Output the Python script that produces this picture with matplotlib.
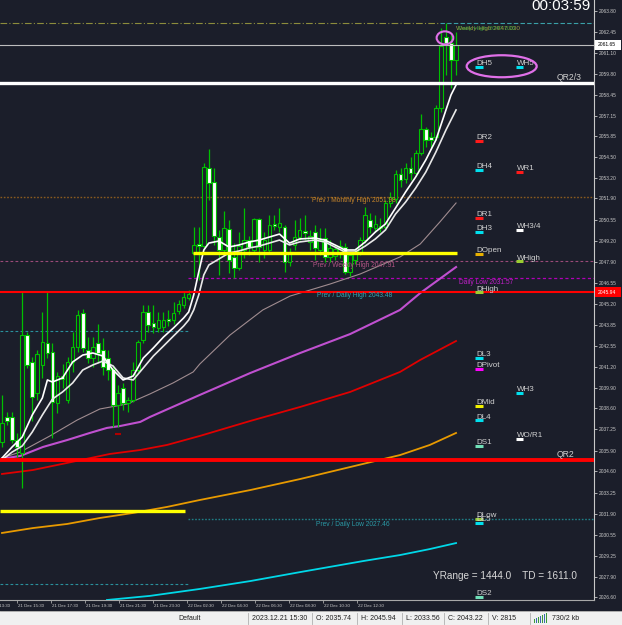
import matplotlib
matplotlib.use("Agg")
import matplotlib.pyplot as plt
import matplotlib.transforms as mtrans
from matplotlib.patches import Ellipse, Rectangle
import numpy as np

# ---------------- data ----------------
opens = [2036.48, 2038.04, 2038.04, 2036.58, 2035.74, 2043.24, 2041.53, 2039.56, 2041.34, 2042.73,
         2042.16, 2038.93, 2040.64, 2039.12, 2041.53, 2042.48, 2044.64, 2042.29, 2041.78, 2042.73,
         2042.29, 2041.78, 2041.09, 2038.80, 2039.88, 2038.93, 2039.12, 2041.02, 2042.92, 2044.70,
         2044.00, 2043.69, 2043.75, 2044.26, 2044.19, 2044.76, 2045.14, 2045.59, 2048.44, 2049.01,
         2048.88, 2053.83, 2052.94, 2049.45, 2048.63, 2049.96, 2048.19, 2047.49, 2048.63, 2049.26,
         2048.63, 2050.60, 2048.63, 2048.63, 2050.28, 2050.09, 2050.09, 2047.87, 2048.95, 2049.45,
         2049.84, 2049.14, 2049.77, 2048.63, 2049.39, 2048.19, 2048.25, 2048.50, 2048.82, 2047.24,
         2048.00, 2048.50, 2049.26, 2050.53, 2050.02, 2050.02, 2050.09, 2051.61, 2051.86, 2053.45,
         2053.13, 2053.83, 2053.51, 2054.78, 2056.30, 2055.79, 2055.79, 2057.63, 2062.13, 2061.75,
         2060.68]
highs = [2039.44, 2038.36, 2038.36, 2037.03, 2045.94, 2043.43, 2041.85, 2042.29, 2044.70, 2045.97,
         2042.73, 2040.90, 2041.40, 2041.85, 2043.43, 2044.83, 2044.89, 2043.11, 2043.11, 2043.94,
         2043.05, 2042.29, 2041.34, 2040.07, 2040.20, 2039.31, 2041.53, 2042.92, 2045.14, 2045.14,
         2045.14, 2044.70, 2044.70, 2044.83, 2045.33, 2045.46, 2045.97, 2046.09, 2050.09, 2050.09,
         2054.15, 2055.03, 2053.83, 2049.90, 2051.10, 2050.53, 2049.07, 2049.77, 2051.29, 2049.52,
         2050.66, 2050.66, 2049.77, 2050.85, 2050.85, 2051.29, 2050.22, 2048.76, 2050.53, 2050.66,
         2050.85, 2049.90, 2050.22, 2050.02, 2050.02, 2049.26, 2048.95, 2049.26, 2049.07, 2048.50,
         2048.76, 2049.45, 2051.36, 2050.98, 2050.85, 2050.66, 2051.80, 2052.31, 2053.70, 2053.83,
         2054.15, 2054.53, 2054.97, 2057.25, 2056.43, 2056.11, 2057.82, 2062.71, 2063.02, 2062.26,
         2062.45]
lows = [2036.14, 2037.54, 2036.39, 2035.51, 2033.56, 2041.15, 2037.79, 2039.12, 2040.52, 2041.78,
        2036.71, 2038.30, 2039.88, 2038.93, 2040.90, 2042.16, 2042.16, 2041.47, 2041.21, 2041.47,
        2040.71, 2040.39, 2037.41, 2037.41, 2038.49, 2038.36, 2038.99, 2040.90, 2042.73, 2043.43,
        2043.37, 2043.43, 2043.43, 2043.81, 2043.94, 2044.57, 2044.95, 2045.46, 2046.92, 2046.73,
        2048.63, 2051.80, 2048.95, 2047.05, 2048.31, 2047.17, 2046.86, 2047.36, 2048.12, 2048.31,
        2048.50, 2047.87, 2048.12, 2048.50, 2049.90, 2049.77, 2047.24, 2047.62, 2048.63, 2049.26,
        2049.26, 2048.63, 2048.00, 2048.31, 2047.87, 2047.87, 2048.00, 2048.12, 2047.11, 2046.98,
        2047.74, 2048.31, 2049.07, 2049.71, 2049.77, 2049.77, 2049.90, 2051.36, 2051.61, 2052.62,
        2052.88, 2053.07, 2053.32, 2054.65, 2055.16, 2055.10, 2055.60, 2057.38, 2059.72, 2058.90,
        2059.72]
closes = [2037.68, 2037.79, 2036.58, 2036.14, 2043.22, 2041.34, 2039.31, 2042.04, 2042.80, 2042.10,
          2038.99, 2040.64, 2040.45, 2041.53, 2042.48, 2044.51, 2042.42, 2041.78, 2042.48, 2042.10,
          2041.21, 2041.02, 2038.80, 2039.56, 2038.93, 2039.12, 2041.02, 2042.80, 2044.70, 2043.88,
          2043.75, 2044.19, 2044.19, 2044.13, 2044.64, 2045.21, 2045.65, 2045.84, 2048.95, 2048.88,
          2053.89, 2052.88, 2049.52, 2048.63, 2050.02, 2048.00, 2047.49, 2048.88, 2049.26, 2048.82,
          2050.60, 2048.82, 2049.26, 2050.22, 2050.15, 2050.34, 2047.87, 2048.44, 2049.45, 2049.90,
          2049.71, 2049.52, 2048.76, 2049.26, 2048.19, 2048.76, 2048.69, 2048.88, 2047.24, 2048.31,
          2048.50, 2049.26, 2050.85, 2050.09, 2050.28, 2050.15, 2051.61, 2051.99, 2053.45, 2053.07,
          2053.83, 2053.51, 2054.78, 2056.30, 2055.60, 2055.60, 2057.63, 2061.56, 2061.75, 2060.68,
          2061.65]

# fast / slow white averages (bar index, price)
fast_x = [0, 2, 4, 6, 8, 9, 10, 12, 14, 16, 18, 20, 22, 24, 26, 28, 30, 32, 34, 36, 37, 38, 39, 40, 41,
          43, 45, 47, 49, 51, 53, 55, 57, 59, 62, 64, 66, 68, 70, 72, 74, 76, 78, 80, 82, 84, 86, 88, 89, 90]
fast_y = [2035.44, 2036.14, 2036.77, 2038.17, 2039.25, 2040.39, 2040.26, 2040.52, 2041.53, 2041.97,
          2042.10, 2041.91, 2041.02, 2040.39, 2040.64, 2041.78, 2042.42, 2043.11, 2043.69, 2044.32,
          2044.70, 2045.78, 2047.24, 2048.63, 2049.07, 2049.20, 2048.82, 2048.95, 2049.14, 2049.26,
          2049.45, 2049.64, 2049.07, 2049.33, 2049.39, 2049.26, 2048.95, 2048.63, 2048.63, 2049.14,
          2049.77, 2050.28, 2051.29, 2052.31, 2053.26, 2054.34, 2055.60, 2057.51, 2058.46, 2059.09]
slow_x = [0, 2, 4, 6, 8, 10, 12, 14, 16, 18, 20, 22, 24, 26, 28, 30, 32, 34, 36, 37, 38, 39, 40, 41,
          43, 45, 47, 49, 51, 53, 55, 57, 59, 62, 64, 66, 68, 70, 72, 74, 76, 78, 80, 82, 84, 86, 88, 90]
slow_y = [2035.32, 2035.82, 2036.20, 2037.09, 2038.17, 2039.18, 2039.63, 2040.20, 2041.02, 2041.34,
          2041.59, 2041.28, 2040.52, 2040.39, 2041.15, 2041.91, 2042.54, 2043.18, 2043.81, 2044.19,
          2044.83, 2045.78, 2047.05, 2047.68, 2048.06, 2048.44, 2048.57, 2048.76, 2048.88, 2049.07,
          2049.26, 2048.95, 2049.14, 2049.26, 2049.14, 2048.82, 2048.50, 2048.50, 2048.88, 2049.33,
          2049.90, 2050.91, 2051.67, 2052.56, 2053.57, 2054.84, 2056.24, 2057.51]
rosy_x = [0, 3.6, 9.5, 14.9, 19.4, 24.8, 29.3, 33.9, 37.9, 39.2, 45.2, 51.7, 57.1, 65.0, 71.0, 78.9, 82.9, 86.8, 90]
rosy_y = [2035.44, 2035.82, 2036.84, 2037.85, 2038.55, 2038.87, 2039.50, 2040.20, 2040.90, 2041.40,
          2043.24, 2044.83, 2045.71, 2046.47, 2047.11, 2048.19, 2049.01, 2050.41, 2051.61]
orchid_x = [0, 3.6, 8.1, 12.9, 17.4, 20.8, 23.4, 27.4, 29.3, 39.2, 49.2, 59.1, 69.0, 78.9, 82.9, 90]
orchid_y = [2035.40, 2035.57, 2036.14, 2036.58, 2037.03, 2037.35, 2037.47, 2037.73, 2038.04, 2039.44,
            2040.83, 2042.10, 2043.30, 2044.83, 2045.90, 2047.55]
red_ma_x = [0, 6.1, 12.9, 21.4, 27.4, 32.7, 39.2, 49.2, 59.1, 69.0, 78.9, 82.9, 90]
red_ma_y = [2034.43, 2034.68, 2035.13, 2035.70, 2035.95, 2036.27, 2036.84, 2037.79, 2038.68, 2039.63,
            2040.90, 2041.66, 2042.86]
orange_ma_x = [0, 6.1, 12.9, 19.4, 26.0, 32.7, 39.2, 49.2, 59.1, 69.0, 78.9, 84.8, 90]
orange_ma_y = [2030.69, 2031.00, 2031.26, 2031.64, 2031.96, 2032.34, 2032.78, 2033.41, 2034.11, 2034.87,
               2035.63, 2036.27, 2037.03]
cyan_ma_x = [20.8, 29.3, 39.2, 49.2, 59.1, 71.6, 78.9, 84.8, 90]
cyan_ma_y = [2026.44, 2026.70, 2027.14, 2027.64, 2028.21, 2028.91, 2029.29, 2029.67, 2030.05]

# levels
current_price = 2061.65
daily_high = 2045.94
weekly_high_top = 2063.00
qr23 = 2059.22
qr2 = 2035.32
prev_monthly_high = 2051.98
prev_weekly_high = 2047.91
daily_low = 2031.57
daily_low_mark = 2046.85
prev_daily_high = 2043.48
prev_daily_low = 2027.46
yellow_today = 2048.42
yellow_yday = 2032.10
signal_mark = (23, 2036.96)

d_names = ['DH5', 'DR2', 'DH4', 'DR1', 'DH3', 'DOpen', 'DHigh', 'DL3', 'DPivot', 'DMid', 'DL4', 'DS1',
           'DLow', 'DL5', 'DS2']
d_vals = [2060.23, 2055.56, 2053.70, 2050.68, 2049.77, 2048.40, 2045.94, 2041.80, 2041.10, 2038.76,
          2037.83, 2036.22, 2031.57, 2031.34, 2026.63]
d_cols = ['#00e0ee', '#ff1a1a', '#00e0ee', '#ff1a1a', '#00e0ee', '#e8b000', '#9acd32', '#00e0ee',
          '#ff00ff', '#f0f000', '#00e0ee', '#70e0b8', '#9acd32', '#00e0ee', '#70e0b8']
w_names = ['WH5', 'WR1', 'WH3/4', 'WHigh', 'WH3', 'WO/R1']
w_vals = [2060.23, 2053.59, 2049.92, 2047.91, 2039.58, 2036.65]
w_cols = ['#00e0ee', '#ff1a1a', '#ffffff', '#9acd32', '#00e0ee', '#ffffff']

price_ticks = [2063.80, 2062.45, 2061.10, 2059.80, 2058.45, 2057.15, 2055.85, 2054.50, 2053.20, 2051.90,
               2050.55, 2049.20, 2047.90, 2046.55, 2045.20, 2043.85, 2042.55, 2041.20, 2039.90, 2038.60,
               2037.25, 2035.90, 2034.60, 2033.25, 2031.90, 2030.55, 2029.25, 2027.90, 2026.60]
time_labels = ['21 Dec 13:30', '21 Dec 15:30', '21 Dec 17:30', '21 Dec 19:30', '21 Dec 21:30',
               '21 Dec 23:30', '22 Dec 02:30', '22 Dec 04:30', '22 Dec 06:30', '22 Dec 08:30',
               '22 Dec 10:30', '22 Dec 12:30']
status_texts = ['Default', '2023.12.21 15:30', 'O: 2035.74', 'H: 2045.94', 'L: 2033.56',
                'C: 2043.22', 'V: 2815', '730/2 kb']

# ---------------- layout ----------------
W, H = 622, 625
BG = '#1b1e2a'
GREEN = '#00c000'
TXT = '#d0d0d0'
PXB = 5.045          # pixels per bar
X0PX = 2.0           # pixel of bar 0
TOP = 2064.48
PPP = 0.0634         # price per pixel
SANS = ['Liberation Sans', 'DejaVu Sans']


def bx(px):
    return (px - X0PX) / PXB


def pw(px):
    return px * PPP


fig = plt.figure(figsize=(W / 100, H / 100), dpi=100, facecolor=BG)
ax = fig.add_axes([0, 25 / H, 594 / W, 600 / H])
ax.set_facecolor(BG)
ax.set_xlim(bx(0), bx(594))
ax.set_ylim(TOP - pw(600), TOP)
right_x = bx(594)
left_x = bx(0)

# ---- level lines (behind) ----
ax.hlines(weekly_high_top, left_x, bx(440), color='#8c8c3c', lw=0.8, ls=(0, (6, 2, 1, 2)), zorder=1)
ax.hlines(weekly_high_top, bx(440), right_x, color='#3aa0a8', lw=0.8, ls=(0, (4, 2)), zorder=1)
ax.axhline(prev_monthly_high, color='#8a5a1e', lw=1.0, ls=(0, (1.2, 1.2)), zorder=1)
ax.axhline(prev_weekly_high, color='#9a4a78', lw=0.8, ls=(0, (2.5, 2)), zorder=1)
ax.hlines(daily_low_mark, bx(188), right_x, color='#b000b8', lw=0.9, ls=(0, (2.5, 2)), zorder=1)
ax.hlines(prev_daily_high, left_x, bx(188), color='#2a909c', lw=0.8, ls=(0, (2.5, 2)), zorder=1)
ax.hlines(prev_daily_low, left_x, bx(188), color='#2a909c', lw=0.8, ls=(0, (2.5, 2)), zorder=1)
ax.hlines(daily_low, bx(188), right_x, color='#1f7f86', lw=1.0, ls=(0, (1.2, 1.2)), zorder=1)

# ---- moving averages ----
ax.plot(cyan_ma_x, cyan_ma_y, color='#00d8e8', lw=1.3, zorder=2)
ax.plot(orange_ma_x, orange_ma_y, color='#e89a00', lw=1.3, zorder=2)
ax.plot(red_ma_x, red_ma_y, color='#e00000', lw=1.3, zorder=2)
ax.plot(orchid_x, orchid_y, color='#c050d0', lw=1.5, zorder=2)
ax.plot(rosy_x, rosy_y, color='#a08c90', lw=0.8, zorder=2)

# ---- candles ----
o = np.array(opens); h = np.array(highs); l = np.array(lows); c = np.array(closes)
idx = np.arange(len(o))
bull = c >= o
ax.vlines(idx, l, h, color=GREEN, lw=0.9, zorder=3)
bottom = np.minimum(o, c)
height = np.maximum(np.abs(c - o), 0.03)
faces = [BG if b else '#ffffff' for b in bull]
ax.bar(idx, height, bottom=bottom, width=0.72, color=faces, edgecolor=GREEN, linewidth=0.8, zorder=4)

ax.plot(slow_x, slow_y, color='#e8e8e8', lw=1.2, zorder=5)
ax.plot(fast_x, fast_y, color='#ffffff', lw=1.2, zorder=5)
ax.plot([signal_mark[0]], [signal_mark[1]], marker='_', color='#b00000', ms=4, mew=1.5, zorder=5)

# ---- foreground lines ----
ax.axhline(current_price, color='#bdbdbd', lw=0.8, zorder=6)
ax.axhline(qr23, color='#ffffff', lw=2.4, zorder=6)
ax.axhline(daily_high, color='#ff0000', lw=1.5, zorder=6)
ax.axhline(qr2, color='#ff0000', lw=2.8, zorder=6)
ax.hlines(yellow_today, bx(193), bx(457), color='#ffff00', lw=2.4, zorder=6)
ax.hlines(yellow_yday, left_x, bx(185), color='#ffff00', lw=2.4, zorder=6)

# ---- pivot markers ----
c1a, c1b = bx(475), bx(483)
c2a, c2b = bx(515.7), bx(523.3)
for name, v, col in zip(d_names, d_vals, d_cols):
    ax.hlines(v, c1a, c1b, color=col, lw=2.2, zorder=7)
    ax.text(c1a + 0.2, v + pw(1.8), name, color=TXT, fontsize=5.8, family=SANS,
            va='baseline', ha='left', zorder=8)
for name, v, col in zip(w_names, w_vals, w_cols):
    ax.hlines(v, c2a, c2b, color=col, lw=2.2, zorder=7)
    ax.text(c2a + 0.2, v + pw(1.8), name, color=TXT, fontsize=5.8, family=SANS,
            va='baseline', ha='left', zorder=8)

# ---- line labels ----
ax.text(bx(312), prev_monthly_high - pw(3.5), 'Prev / Monthly High %.2f' % prev_monthly_high,
        color='#c8862a', fontsize=4.8, family=SANS, va='center', ha='left', zorder=8)
ax.text(bx(313), prev_weekly_high - pw(4.5), 'Prev / Weekly High %.2f' % prev_weekly_high,
        color='#b25484', fontsize=4.8, family=SANS, va='center', ha='left', zorder=8)
ax.text(bx(317), daily_high - pw(3.5), 'Prev / Daily High %.2f' % prev_daily_high,
        color='#2fa8b4', fontsize=4.8, family=SANS, va='center', ha='left', zorder=8)
ax.text(bx(316), daily_low - pw(5), 'Prev / Daily Low %.2f' % prev_daily_low,
        color='#2a9aa6', fontsize=4.8, family=SANS, va='center', ha='left', zorder=8)
ax.text(bx(459), daily_low_mark - pw(4.5), 'Daily Low %.2f' % daily_low,
        color='#c020c8', fontsize=4.8, family=SANS, va='center', ha='left', zorder=8)
ax.text(bx(456), weekly_high_top - pw(4.7), 'Weekly High 2047.030',
        color='#9a9a40', fontsize=4.6, family=SANS, va='center', ha='left', zorder=8)
ax.text(bx(458), weekly_high_top - pw(4.7), 'Daily High 2047.030',
        color='#40b040', fontsize=4.6, family=SANS, va='center', ha='left', zorder=8, alpha=0.8)
ax.text(bx(557), qr23 + pw(5.5), 'QR2/3', color=TXT, fontsize=6.2, family=SANS,
        va='center', ha='left', zorder=8)
ax.text(bx(557), qr2 + pw(5), 'QR2', color=TXT, fontsize=6.2, family=SANS,
        va='center', ha='left', zorder=8)
ax.text(bx(433), TOP - pw(576), 'YRange = 1444.0    TD = 1611.0', color='#d8d8d8', fontsize=7.2,
        family=SANS, va='center', ha='left', zorder=8)

# ---- hand-drawn circles ----
ax.add_patch(Ellipse(((c1a + c2b) / 2 + 0.5, d_vals[0] + 0.05), width=bx(537) - bx(467),
                     height=pw(22), fill=False, ec='#e070e8', lw=1.6, zorder=9))
ax.add_patch(Ellipse((87.8, opens[88] - 0.05), width=3.3, height=pw(13), angle=0,
                     fill=False, ec='#e070e8', lw=1.5, zorder=9))

# ---- axes styling ----
for s in ['top', 'left']:
    ax.spines[s].set_visible(False)
ax.spines['right'].set_color('#c8c8c8')
ax.spines['right'].set_linewidth(0.8)
ax.spines['bottom'].set_color('#a8a8a8')
ax.spines['bottom'].set_linewidth(0.8)
ax.yaxis.tick_right()
ax.set_yticks(price_ticks)
ax.set_yticklabels(['%.2f' % v for v in price_ticks], family=SANS)
ax.tick_params(axis='y', colors='#c8c8c8', labelsize=3.5, length=2, width=0.6, pad=1.5)

tick_start = bx(-17)
tick_step = 34 / PXB
tick_pos = [tick_start + tick_step * k for k in range(len(time_labels))]
ax.set_xticks(tick_pos[1:])
ax.set_xticklabels([])
ax.tick_params(axis='x', colors='#a8a8a8', length=2.5, width=0.6)
btr = mtrans.blended_transform_factory(ax.transData, fig.transFigure)
for p, lab in zip(tick_pos, time_labels):
    ax.text(p + 0.2, 1 - 606 / H, lab, transform=btr, color='#c8c8c8', fontsize=3.2,
            family=SANS, va='center', ha='left', clip_on=False)

# price boxes on the axis
ptr = mtrans.blended_transform_factory(fig.transFigure, ax.transData)
for val, fc, tc in [(current_price, '#ffffff', '#000000'), (daily_high, '#ff0000', '#ffffff')]:
    fig.add_artist(Rectangle((595 / W, val - pw(5)), 26 / W, pw(10), transform=ptr,
                             facecolor=fc, edgecolor='none', zorder=10, clip_on=False))
    fig.text(598 / W, val, '%.2f' % val, transform=ptr, color=tc, fontsize=3.6, family=SANS,
             va='center', ha='left', zorder=11)

# clock
fig.text(591 / W, 1 - 9.5 / H, '00:03:59', color='#ffffff', fontsize=11, family=SANS,
         ha='right', va='baseline')

# ---- status bar ----
fig.add_artist(Rectangle((0, 0), 1, 14 / H, transform=fig.transFigure, facecolor='#f0f0f0',
                         edgecolor='none'))
fig.add_artist(plt.Line2D([0, 1], [14 / H, 14 / H], transform=fig.transFigure, color='#a0a0a0', lw=0.6))
status_x = [178.6, 252, 316, 361, 405.5, 448, 492, 551.6]
for xx, t in zip(status_x, status_texts):
    fig.text(xx / W, 1 - 619 / H, t, color='#202020', fontsize=5.0, family=SANS, va='center', ha='left')
for sx in [248, 312, 357, 401.6, 444, 488, 530]:
    fig.add_artist(plt.Line2D([sx / W, sx / W], [1 / H, 12 / H], transform=fig.transFigure,
                              color='#b0b0b0', lw=0.6))
for k in range(7):
    col = '#3a9a3a' if k % 2 == 0 else '#3a6ab0'
    hh = 4 + k
    fig.add_artist(Rectangle(((534 + 2 * k) / W, 2 / H), 1.4 / W, hh / H, transform=fig.transFigure,
                             facecolor=col, edgecolor='none'))

fig.savefig('out.png', dpi=100, facecolor=BG)
